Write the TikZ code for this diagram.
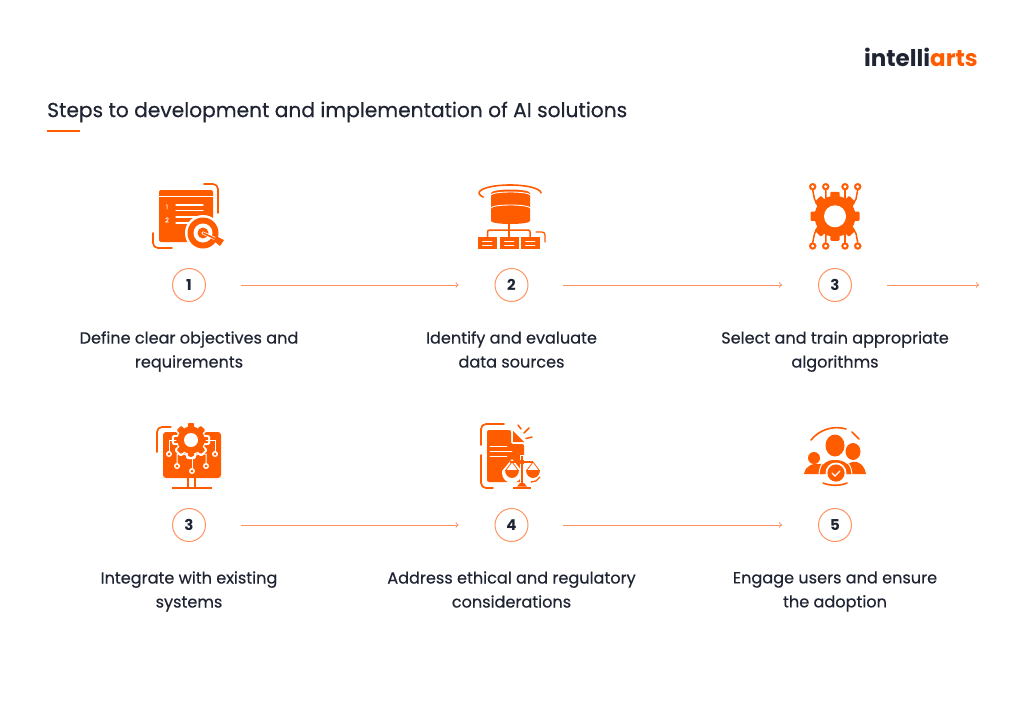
\documentclass[tikz,border=0pt]{standalone}
\usepackage{fontspec}
\setmainfont{Poppins}[FakeBold=0.45]
\newfontfamily\logofont{Poppins}
\newfontfamily\numfont{Poppins}
\definecolor{Brand}{rgb}{1.0,0.36,0.0}
\definecolor{BrandLight}{rgb}{1.0,0.58,0.38}
\definecolor{Ink}{rgb}{0.12,0.14,0.20}
\usetikzlibrary{positioning}
\tikzset{
    iconfill/.style={fill=Brand,draw=none},
    iconline/.style={draw=Brand,line width=1.7pt,rounded corners=5pt,line cap=round},
    iconthin/.style={draw=Brand,line width=1.5pt},
    cutline/.style={draw=white,line width=1.3pt,line cap=round},
    stepnum/.style={circle,draw=BrandLight,line width=1pt,fill=white,minimum size=33pt,inner sep=0pt,text=Ink,font=\fontsize{15}{15}\numfont\bfseries},
    steptext/.style={align=center,text=Ink,font=\fontsize{16.1}{24}\selectfont,execute at begin node=\strut,execute at end node=\strut},
    steparrow/.style={-to,draw=BrandLight,line width=1pt,shorten <=34.5pt,shorten >=36pt}
}
% gear: centre x, centre y, body radius, tooth half width, tooth tip radius, options
\newcommand{\gearicon}[6]{
    \begin{scope}[shift={(#1,#2)}]
        \path[#6] (0,0) circle (#3);
        \foreach \ang in {0,45,...,315}{
            \path[#6,rotate=\ang,rounded corners=1pt] (-#4,0) -- (-#4,-#5) -- (#4,-#5) -- (#4,0) -- cycle;
        }
    \end{scope}
}
% small ring at the end of a circuit line
\newcommand{\ringat}[3]{\filldraw[draw=#3,fill=#3,line width=0.1pt] (#1,#2) circle (3.6pt);\fill[white] (#1,#2) circle (1.7pt);}

\begin{document}
\begin{tikzpicture}[x=1pt,y=-1pt]

    \useasboundingbox (0,0) rectangle (1024,701);
    \fill[white] (0,0) rectangle (1024,701);

    % logo and title
    \node[anchor=east,inner sep=0pt,font=\fontsize{23}{25}\logofont\bfseries] (logo) at (978,57)
        {\textcolor{Ink}{intelli}\textcolor{Brand}{arts}};
    \node[anchor=west,inner sep=0pt,text=Ink,font=\fontsize{20.2}{24}\selectfont] (title) at (47,112)
        {Steps to development and implementation of AI solutions};
    \fill[Brand] (47,130.2) rectangle (80,132);

    % step numbers
    \node[stepnum] (num1) at (189,285) {1};
    \node[stepnum] (num2) at (511.5,285) {2};
    \node[stepnum] (num3) at (835,285) {3};
    \node[stepnum] (num4) at (189,525) {3};
    \node[stepnum] (num5) at (511.5,525) {4};
    \node[stepnum] (num6) at (835,525) {5};
    \coordinate (rowend) at (1015,285);

    % connectors
    \draw[steparrow] (num1) -- (num2);
    \draw[steparrow] (num2) -- (num3);
    \draw[steparrow] (num3) -- (rowend);
    \draw[steparrow] (num4) -- (num5);
    \draw[steparrow] (num5) -- (num6);

    % step texts
    \node[steptext] (text1) at (189,353) {Define clear objectives and\\requirements};
    \node[steptext] (text2) at (511.5,353) {Identify and evaluate\\data sources};
    \node[steptext] (text3) at (835,353) {Select and train appropriate\\algorithms};
    \node[steptext] (text4) at (189,593) {Integrate with existing\\systems};
    \node[steptext] (text5) at (511.5,593) {Address ethical and regulatory\\considerations};
    \node[steptext] (text6) at (835,593) {Engage users and ensure\\the adoption};

    % icon 1: list with target
    \fill[iconfill,rounded corners=2pt] (159,190) rectangle (213,242);
    \draw[cutline,line width=0.9pt] (159,196) -- (213,196);
    \node[inner sep=0pt,text=white,font=\fontsize{6.5}{6.5}\selectfont] (listone) at (167,207) {1};
    \node[inner sep=0pt,text=white,font=\fontsize{6.5}{6.5}\selectfont] (listtwo) at (167,220) {2};
    \draw[cutline] (176,205) -- (203,205) (176,210.5) -- (203,210.5) (176,217) -- (197,217) (176,223) -- (192,223);
    \fill[white] (203,233) circle (18);
    \fill[Brand] (203,233) circle (15.5);
    \fill[white] (203,233) circle (9.5);
    \fill[Brand] (203,233) circle (5.5);
    \fill[white] (203,233) circle (1.6);
    \draw[white,line width=3pt] (203,233) -- (216,239);
    \draw[Brand,line width=1.6pt] (203,233) -- (218,240);
    \fill[Brand] (216,236) -- (224,240) -- (220,246) -- (214,241) -- cycle;
    \draw[iconline] (204,184) -- (218,184) -- (218,213);
    \draw[iconline] (153,233) -- (153,248) -- (172,248);

    % icon 2: database
    \draw[Brand,line width=1.6pt,line cap=round] (483.2,197) arc[start angle=150,end angle=360,x radius=31,y radius=8];
    \fill[iconfill] (491,193) -- (530,193) -- (530,221) arc[start angle=0,end angle=180,x radius=19.5,y radius=3] -- cycle;
    \fill[iconfill] (510.5,193) ellipse (19.5 and 3.5);
    \draw[cutline,line width=0.9pt] (491,195) arc[start angle=180,end angle=0,x radius=19.5,y radius=-3];
    \draw[cutline,line width=0.9pt] (491,208) arc[start angle=180,end angle=0,x radius=19.5,y radius=-3];
    \draw[iconthin,rounded corners=2pt] (509,222) -- (509,237);
    \draw[iconthin,rounded corners=2pt] (487.5,237) -- (487.5,230) -- (530,230) -- (530,237);
    \foreach \bx in {478,500,521}{
        \fill[iconfill] (\bx,237) rectangle (\bx+18.5,249);
        \draw[cutline,line width=0.8pt] (\bx+4.5,241) -- (\bx+14,241) (\bx+4.5,245) -- (\bx+14,245);
    }
    \draw[iconline,line width=1.3pt,rounded corners=3pt] (536,232) -- (545,232) -- (545,242);

    % icon 3: gear with circuit
    \foreach \cx/\kx/\ky/\ox in {812.7/818/206/814.5,825.7/826/197/826,845/845/197/845,857.7/852/206/856}{
        \draw[iconthin] (\cx,190) -- (\ox,199) -- (\kx,\ky);
        \draw[iconthin] (\cx,242.6) -- (\ox,233.6) -- (\kx,432.6-\ky);
    }
    \foreach \cx in {812.7,825.7,845,857.7}{
        \ringat{\cx}{186.7}{Brand}
        \ringat{\cx}{246}{Brand}
    }
    \gearicon{835}{216.3}{20.5}{4.6}{24.5}{iconfill}
    \fill[white] (835,216.3) circle (11);

    % icon 4: monitor with gear
    \fill[iconfill,rounded corners=3pt] (163,432) rectangle (221,478);
    \draw[iconthin] (188,478) -- (188,488) (195,478) -- (195,488);
    \draw[iconthin] (172,488) -- (212,488);
    \draw[iconline] (170.7,427) -- (157,427) -- (157,452);
    \gearicon{191}{440}{13.5}{3.6}{18}{draw=white,line width=2.4pt}
    \gearicon{191}{440}{13.5}{3.2}{17}{iconfill}
    \fill[white] (191,440) circle (7);
    \draw[cutline,line width=1pt] (169,451) -- (169,440) -- (176,440);
    \draw[cutline,line width=1pt] (177,463) -- (177,454) -- (184,454) -- (191,458) -- (198,454) -- (206,454) -- (206,463);
    \draw[cutline,line width=1pt] (192,458) -- (192,468);
    \draw[cutline,line width=1pt] (215,451) -- (215,440) -- (206,440);
    \foreach \rx/\ry in {169/454,177/466,192/471,206/466,215/454}{
        \fill[white] (\rx,\ry) circle (3);
        \fill[Brand] (\rx,\ry) circle (1.5);
    }

    % icon 5: document with scales
    \fill[iconfill,rounded corners=2pt] (487,430) -- (511,430) -- (511,444) -- (524,444) -- (524,482) -- (487,482) -- cycle;
    \fill[iconfill] (513,431) -- (524,442) -- (513,442) -- cycle;
    \draw[cutline,line width=0.9pt] (490,446) -- (507,446) (490,451) -- (512,451) (490,456) -- (507,456);
    \draw[white,line width=5pt] (522,455) -- (522,488);
    \fill[white] (525,458) rectangle (542,488);
    \fill[white] (512,459) -- (502,471) -- (502,473) arc[start angle=180,end angle=0,x radius=10,y radius=10] -- (522,471) -- cycle;
    \draw[iconline] (504,424) -- (481,424) -- (481,445);
    \draw[iconline] (481,455) -- (481,488) -- (493,488);
    \draw[Brand,line width=1.5pt,line cap=round] (518,425) -- (521,429) (529,428) -- (524,433) (532,437) -- (526,438.5);
    \draw[Brand,line width=1.3pt,line cap=round] (540,477) -- (536,481) -- (531,482);
    \draw[Brand,line width=1.8pt] (522,456) -- (522,486);
    \fill[Brand] (513,488.5) rectangle (531,486.5);
    \fill[Brand] (517,486.5) -- (527,486.5) -- (524,483) -- (520,483) -- cycle;
    \draw[Brand,line width=1.2pt] (510,462) -- (533,462);
    \fill[Brand] (522,462) circle (2.4);
    \foreach \px in {512,533}{
        \draw[Brand,line width=0.8pt] (\px,462) -- (\px-6,470) (\px,462) -- (\px+6,470);
        \fill[Brand] (\px-7,470) arc[start angle=180,end angle=0,x radius=7,y radius=8] -- cycle;
    }

    % icon 6: people with check
    \draw[Brand,line width=1.6pt,line cap=round] (811,440) .. controls (819,430) and (833,425) .. (846,429);
    \draw[Brand,line width=1.6pt,line cap=round] (852,432) -- (859,439);
    \draw[Brand,line width=1.6pt,line cap=round] (823,483) .. controls (830,486) and (840,486) .. (847,483);
    \fill[Brand] (835,445.5) ellipse (9.5 and 11);
    \fill[Brand] (853,451.5) ellipse (7.5 and 8.5);
    \fill[Brand] (814,458) circle (6);
    \fill[Brand] (804,474) .. controls (806,465) and (812,463) .. (823,464) -- (823,474) -- cycle;
    \fill[Brand] (843,474) .. controls (843,463) and (852,461) .. (857,462) .. controls (862,464) and (865,468) .. (866,474) -- cycle;
    \draw[white,line width=1pt] (819,474) .. controls (820,462) and (826,459) .. (835,459) .. controls (844,459) and (851,462) .. (852,474);
    \fill[Brand] (820,474) .. controls (821,463) and (827,460) .. (835,460) .. controls (843,460) and (850,463) .. (851,474) -- cycle;
    \fill[white] (836,473) circle (10.5);
    \fill[Brand] (836,473) circle (8.6);
    \draw[white,line width=1.2pt,line cap=round] (832,473) -- (835,476) -- (840,471);

\end{tikzpicture}
\end{document}
